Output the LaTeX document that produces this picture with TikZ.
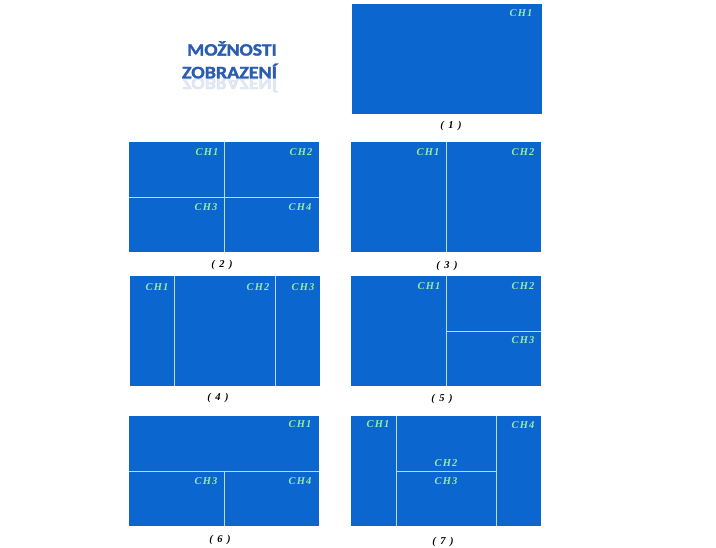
\documentclass[tikz,border=0pt]{standalone}
\usepackage{fontspec}
\setmainfont{Liberation Serif}
\newfontfamily\chfont[LetterSpace=12]{Liberation Serif}
\newfontfamily\captfont{Liberation Serif}
\newfontfamily\titlefont[FakeBold=1.6]{Carlito}
\definecolor{panelblue}{RGB}{12,102,208}
\definecolor{chgreen}{RGB}{150,235,165}
\definecolor{divline}{RGB}{190,215,245}
\definecolor{titleblue}{RGB}{42,92,178}
\newcommand{\capsp}{\hspace{4.5pt}}
\begin{document}
\begin{tikzpicture}[x=1pt,y=-1pt,
  panel/.style={fill=panelblue},
  divider/.style={draw=divline,line width=0.9pt},
  ch/.style={text=chgreen,font=\chfont\fontsize{10.5}{10.5}\selectfont\bfseries\itshape,inner sep=0pt},
  capt/.style={font=\captfont\fontsize{10.5}{10.5}\selectfont\bfseries\itshape,inner sep=0pt},
  ttl/.style={text=titleblue,font=\titlefont\fontsize{17.5}{17.5}\selectfont\bfseries,inner sep=0pt}]
\useasboundingbox[fill=white] (0,0) rectangle (716,548);

% title
\node[ttl,xscale=1.12] (t1) at (232,48.5) {MOŽNOSTI};
\node[ttl,xscale=1.14] (t2) at (229.5,71) {ZOBRAZENÍ};
\node[ttl,xscale=1.14,yscale=-1,opacity=0.13] (t3) at (229.5,85) {ZOBRAZENÍ};

% panel 1
\fill[panel] (352,4) rectangle (542,114);
\node[ch] (p1a) at (521,13) {CH1};
\node[capt] (c1) at (451,126) {(\capsp 1\capsp)};

% panel 2
\fill[panel] (129,142) rectangle (319,252);
\draw[divider] (224,142) -- (224,252);
\draw[divider] (129,197) -- (319,197);
\node[ch] (p2a) at (207,152) {CH1};
\node[ch] (p2b) at (301,152) {CH2};
\node[ch] (p2c) at (206,207) {CH3};
\node[ch] (p2d) at (300,207) {CH4};
\node[capt] (c2) at (222,265) {(\capsp 2\capsp)};

% panel 3
\fill[panel] (351,142) rectangle (541,252);
\draw[divider] (446,142) -- (446,252);
\node[ch] (p3a) at (428,152) {CH1};
\node[ch] (p3b) at (523,152) {CH2};
\node[capt] (c3) at (447,266) {(\capsp 3\capsp)};

% panel 4
\fill[panel] (130,276) rectangle (320,386);
\draw[divider] (174,276) -- (174,386);
\draw[divider] (275,276) -- (275,386);
\node[ch] (p4a) at (157,287) {CH1};
\node[ch] (p4b) at (258,287) {CH2};
\node[ch] (p4c) at (303,287) {CH3};
\node[capt] (c4) at (218,398) {(\capsp 4\capsp)};

% panel 5
\fill[panel] (351,276) rectangle (541,386);
\draw[divider] (446,276) -- (446,386);
\draw[divider] (446,331) -- (541,331);
\node[ch] (p5a) at (429,286) {CH1};
\node[ch] (p5b) at (523,286) {CH2};
\node[ch] (p5c) at (523,340) {CH3};
\node[capt] (c5) at (442,399) {(\capsp 5\capsp)};

% panel 6
\fill[panel] (129,416) rectangle (319,526);
\draw[divider] (129,471) -- (319,471);
\draw[divider] (224,471) -- (224,526);
\node[ch] (p6a) at (300,424) {CH1};
\node[ch] (p6b) at (206,481) {CH3};
\node[ch] (p6c) at (300,481) {CH4};
\node[capt] (c6) at (220,540) {(\capsp 6\capsp)};

% panel 7
\fill[panel] (351,416) rectangle (541,526);
\draw[divider] (396,416) -- (396,526);
\draw[divider] (496,416) -- (496,526);
\draw[divider] (396,471) -- (496,471);
\node[ch] (p7a) at (378,424) {CH1};
\node[ch] (p7b) at (446,463) {CH2};
\node[ch] (p7c) at (446,481) {CH3};
\node[ch] (p7d) at (523,425) {CH4};
\node[capt] (c7) at (443,542) {(\capsp 7\capsp)};
\end{tikzpicture}
\end{document}
